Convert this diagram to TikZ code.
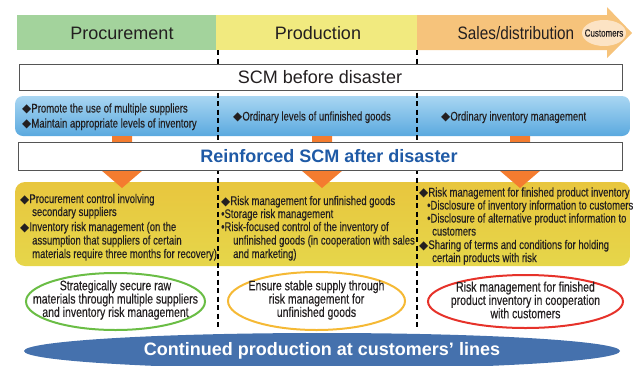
\documentclass[tikz,border=0pt]{standalone}
\usepackage{fontspec}
\setmainfont{Liberation Sans}
\newfontfamily\narrowfont[FakeStretch=0.76,FakeBold=0.3]{Liberation Sans}
\newfontfamily\semifont[FakeStretch=0.85]{Liberation Sans}
\newfontfamily\symfont{DejaVu Sans}
\usetikzlibrary{shapes.geometric}

\definecolor{procgreen}{HTML}{A3D39C}
\definecolor{prodyellow}{HTML}{F1EA7F}
\definecolor{salesorange}{HTML}{F6C37B}
\definecolor{custpeach}{HTML}{FCE3C4}
\definecolor{bandtop}{HTML}{A9D6F2}
\definecolor{bandmid}{HTML}{F2F9FD}
\definecolor{bandbot}{HTML}{5AA9DF}
\definecolor{goldtop}{HTML}{E8C63E}
\definecolor{goldmid}{HTML}{FCFBE2}
\definecolor{goldbot}{HTML}{E6D64A}
\definecolor{arroworange}{HTML}{F47C2F}
\definecolor{boxgray}{HTML}{555555}
\definecolor{scmblue}{HTML}{1F5AA6}
\definecolor{goalgreen}{HTML}{6ABD45}
\definecolor{goalyellow}{HTML}{F5B935}
\definecolor{goalred}{HTML}{E6322A}
\definecolor{resultblue}{HTML}{4571AD}
\definecolor{txtgray}{HTML}{231F20}

\newcommand{\dmd}{{\symfont\fontsize{12}{12}\selectfont\char"25C6}}

\tikzset{
  headtext/.style={font=\fontsize{18}{20}\selectfont, text=txtgray, inner sep=0pt},
  item/.style={anchor=base west, font=\narrowfont\fontsize{12.5}{13}\selectfont, text=txtgray, inner sep=0pt},
  goaltext/.style={inner sep=0pt, align=center,
    font=\narrowfont\fontsize{13.8}{13.3}\selectfont, text=txtgray},
  goalline/.style={line width=2pt}
}

\begin{document}
\begin{tikzpicture}[x=1pt,y=-1pt]
  \useasboundingbox (0,0) rectangle (640,365);

  % header bands, the last one ends in an arrow
  \fill[procgreen] (17,15) rectangle (216,50);
  \fill[prodyellow] (216,15) rectangle (417,50);
  \fill[salesorange] (417,15) -- (607,15) -- (607,7) -- (632,33) -- (607,58) -- (607,50) -- (417,50) -- cycle;
  \fill[custpeach] (604,33) ellipse [x radius=22, y radius=13];

  \node[headtext] (proc) at (122,33) {Procurement};
  \node[headtext] (prod) at (318,33) {Production};
  \node[headtext, font=\semifont\fontsize{18}{20}\selectfont] (sales) at (516,33) {Sales/distribution};
  \node[font=\narrowfont\fontsize{10.5}{11}\selectfont, text=txtgray, inner sep=0pt] (cust) at (604,33) {Customers};

  % blue band and yellow band
  \shade[top color=bandtop, middle color=bandmid, bottom color=bandbot, rounded corners=8pt]
    (15,96) rectangle (630,136);
  \shade[top color=goldtop, middle color=goldmid, bottom color=goldbot, rounded corners=10pt]
    (15,182) rectangle (630,266);

  % dashed column borders
  \foreach \x in {218,417} {
    \draw[line width=1.2pt, dash pattern=on 5pt off 3.5pt] (\x,50) -- (\x,330);
  }

  % 3 orange arrows going down
  \foreach \x in {122,322,520} {
    \fill[arroworange] (\x-10,136) -- (\x+10,136) -- (\x+10,170) -- (\x+21,170)
      -- (\x,188) -- (\x-21,170) -- (\x-10,170) -- cycle;
  }

  % the two white boxes
  \draw[boxgray, line width=1pt, fill=white] (19,64) rectangle (622,90);
  \node[headtext] (before) at (320,77) {SCM before disaster};
  \draw[boxgray, line width=1pt, fill=white] (18,142) rectangle (622,170);
  \node[headtext, font=\bfseries\fontsize{18}{20}\selectfont, text=scmblue] (after) at (329,156) {Reinforced SCM after disaster};

  % before disaster
  \node[item] (b1) at (22,112.5) {\dmd Promote the use of multiple suppliers};
  \node[item] (b2) at (22,127.5) {\dmd Maintain appropriate levels of inventory};
  \node[item] (b3) at (233,120.5) {\dmd Ordinary levels of unfinished goods};
  \node[item] (b4) at (441,120.5) {\dmd Ordinary inventory management};

  % after disaster, procurement
  \node[item] (p1) at (20,203) {\dmd Procurement control involving};
  \node[item] (p2) at (32,216) {secondary suppliers};
  \node[item] (p3) at (20,231) {\dmd Inventory risk management (on the};
  \node[item] (p4) at (32,244.5) {assumption that suppliers of certain};
  \node[item] (p5) at (32,258) {materials require three months for recovery)};

  % after disaster, production
  \node[item] (m1) at (221,205) {\dmd Risk management for unfinished goods};
  \node[item] (m2) at (221,218) {\textbullet Storage risk management};
  \node[item] (m3) at (221,231) {\textbullet Risk-focused control of the inventory of};
  \node[item] (m4) at (233,244.5) {unfinished goods (in cooperation with sales};
  \node[item] (m5) at (233,258) {and marketing)};

  % after disaster, sales
  \node[item] (s1) at (419,196.5) {\dmd Risk management for finished product inventory};
  \node[item] (s2) at (427,209.5) {\textbullet Disclosure of inventory information to customers};
  \node[item] (s3) at (427,222.5) {\textbullet Disclosure of alternative product information to};
  \node[item] (s4) at (432,235.5) {customers};
  \node[item] (s5) at (419,249) {\dmd Sharing of terms and conditions for holding};
  \node[item] (s6) at (432,262) {certain products with risk};

  % goals
  \draw[goalline, goalgreen] (115.5,301.5) ellipse [x radius=89.5, y radius=28.5];
  \draw[goalline, goalyellow] (316.5,301) ellipse [x radius=88.5, y radius=29];
  \draw[goalline, goalred] (525.5,301.5) ellipse [x radius=97.5, y radius=26.5];
  \node[goaltext] (g1) at (115.5,300)
    {Strategically secure raw\\materials through multiple suppliers\\and inventory risk management};
  \node[goaltext] (g2) at (316.5,300)
    {Ensure stable supply through\\risk management for\\unfinished goods};
  \node[goaltext] (g3) at (525.5,300)
    {Risk management for finished\\product inventory in cooperation\\with customers};

  % result at the bottom
  \node[ellipse, fill=resultblue, minimum width=596pt, minimum height=36pt, inner sep=0pt,
    text=white, font=\bfseries\fontsize{18}{20}\selectfont] (result) at (322,351)
    {Continued production at customers’ lines};

\end{tikzpicture}
\end{document}
